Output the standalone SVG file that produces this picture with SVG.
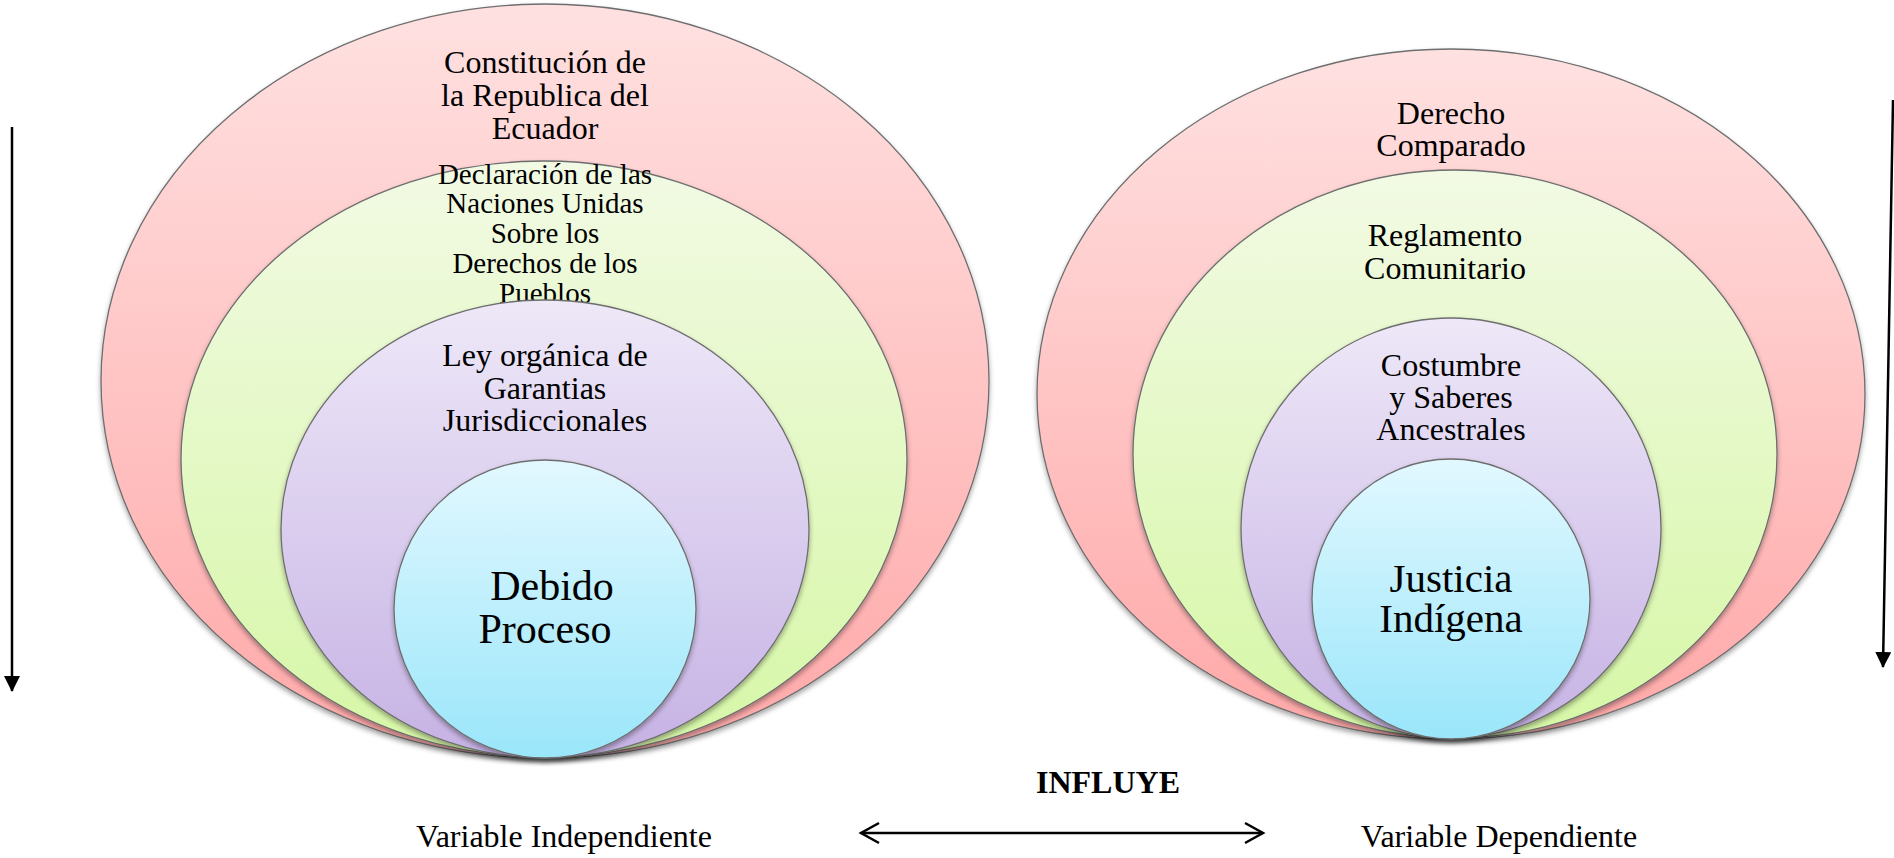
<svg xmlns="http://www.w3.org/2000/svg" width="1894" height="858" viewBox="0 0 1894 858">
<style>
.t{font-family:"Liberation Serif","Times New Roman",serif;fill:#000;text-anchor:middle}
.e{stroke:#6e6e6e;stroke-width:1.3;filter:url(#sh)}
.ln{stroke:#000;stroke-width:2.5;fill:none}
</style>
<defs>
<linearGradient id="gr" x1="0" y1="0" x2="0" y2="1"><stop offset="0" stop-color="#FFE1E1"/><stop offset="1" stop-color="#FFA8A8"/></linearGradient>
<linearGradient id="gg" x1="0" y1="0" x2="0" y2="1"><stop offset="0" stop-color="#F2FAE4"/><stop offset="1" stop-color="#D6F7A6"/></linearGradient>
<linearGradient id="gp" x1="0" y1="0" x2="0" y2="1"><stop offset="0" stop-color="#EEE8F8"/><stop offset="1" stop-color="#C6B2E4"/></linearGradient>
<linearGradient id="gb" x1="0" y1="0" x2="0" y2="1"><stop offset="0" stop-color="#E2F8FF"/><stop offset="1" stop-color="#9AE6FA"/></linearGradient>
<filter id="sh" x="-5%" y="-5%" width="110%" height="112%"><feDropShadow dx="0" dy="3" stdDeviation="2.5" flood-color="#000" flood-opacity="0.35"/></filter>
<marker id="tri" markerWidth="16" markerHeight="16" refX="15" refY="8" orient="auto" markerUnits="userSpaceOnUse"><path d="M0,0 L16,8 L0,16 Z" fill="#000"/></marker>
</defs>

<g id="left-outer">
<ellipse class="e" cx="545" cy="381" rx="444" ry="377" fill="url(#gr)"/>
<text class="t" font-size="32"><tspan x="545" y="73">Constitución de</tspan><tspan x="545" y="106">la Republica del</tspan><tspan x="545" y="139">Ecuador</tspan></text>
</g>
<g id="left-green">
<ellipse class="e" cx="544" cy="459" rx="363" ry="298" fill="url(#gg)"/>
<text class="t" font-size="29"><tspan x="545" y="184">Declaración de las</tspan><tspan x="545" y="213">Naciones Unidas</tspan><tspan x="545" y="243">Sobre los</tspan><tspan x="545" y="273">Derechos de los</tspan><tspan x="545" y="303">Pueblos</tspan></text>
</g>
<g id="left-purple">
<ellipse class="e" cx="545" cy="529" rx="264" ry="229" fill="url(#gp)"/>
<text class="t" font-size="32"><tspan x="545" y="366">Ley orgánica de</tspan><tspan x="545" y="399">Garantias</tspan><tspan x="545" y="431">Jurisdiccionales</tspan></text>
</g>
<g id="left-core">
<ellipse class="e" cx="545" cy="609" rx="151" ry="149" fill="url(#gb)"/>
<text class="t" font-size="42"><tspan x="552" y="600">Debido</tspan><tspan x="545" y="643">Proceso</tspan></text>
</g>

<g id="right-outer">
<ellipse class="e" cx="1451" cy="394" rx="414" ry="345" fill="url(#gr)"/>
<text class="t" font-size="32"><tspan x="1451" y="124">Derecho</tspan><tspan x="1451" y="156">Comparado</tspan></text>
</g>
<g id="right-green">
<ellipse class="e" cx="1455" cy="454" rx="322" ry="284" fill="url(#gg)"/>
<text class="t" font-size="32"><tspan x="1445" y="246">Reglamento</tspan><tspan x="1445" y="279">Comunitario</tspan></text>
</g>
<g id="right-purple">
<ellipse class="e" cx="1451" cy="528" rx="210" ry="210" fill="url(#gp)"/>
<text class="t" font-size="32"><tspan x="1451" y="376">Costumbre</tspan><tspan x="1451" y="408">y Saberes</tspan><tspan x="1451" y="440">Ancestrales</tspan></text>
</g>
<g id="right-core">
<ellipse class="e" cx="1451" cy="599" rx="139" ry="140" fill="url(#gb)"/>
<text class="t" font-size="41"><tspan x="1451" y="592">Justicia</tspan><tspan x="1451" y="632">Indígena</tspan></text>
</g>

<g id="labels">
<text class="t" font-size="32" x="564" y="847">Variable Independiente</text>
<text class="t" font-size="32" x="1499" y="847">Variable Dependiente</text>
<text class="t" font-size="32" font-weight="bold" x="1108" y="793">INFLUYE</text>
</g>

<g id="connectors">
<line class="ln" x1="12" y1="127" x2="12" y2="691" marker-end="url(#tri)"/>
<line class="ln" x1="1893" y1="100" x2="1883" y2="667" marker-end="url(#tri)"/>
<line class="ln" x1="861" y1="833" x2="1263" y2="833"/>
<path class="ln" d="M879,823 L861,833 L879,843 M1245,823 L1263,833 L1245,843"/>
</g>
</svg>
